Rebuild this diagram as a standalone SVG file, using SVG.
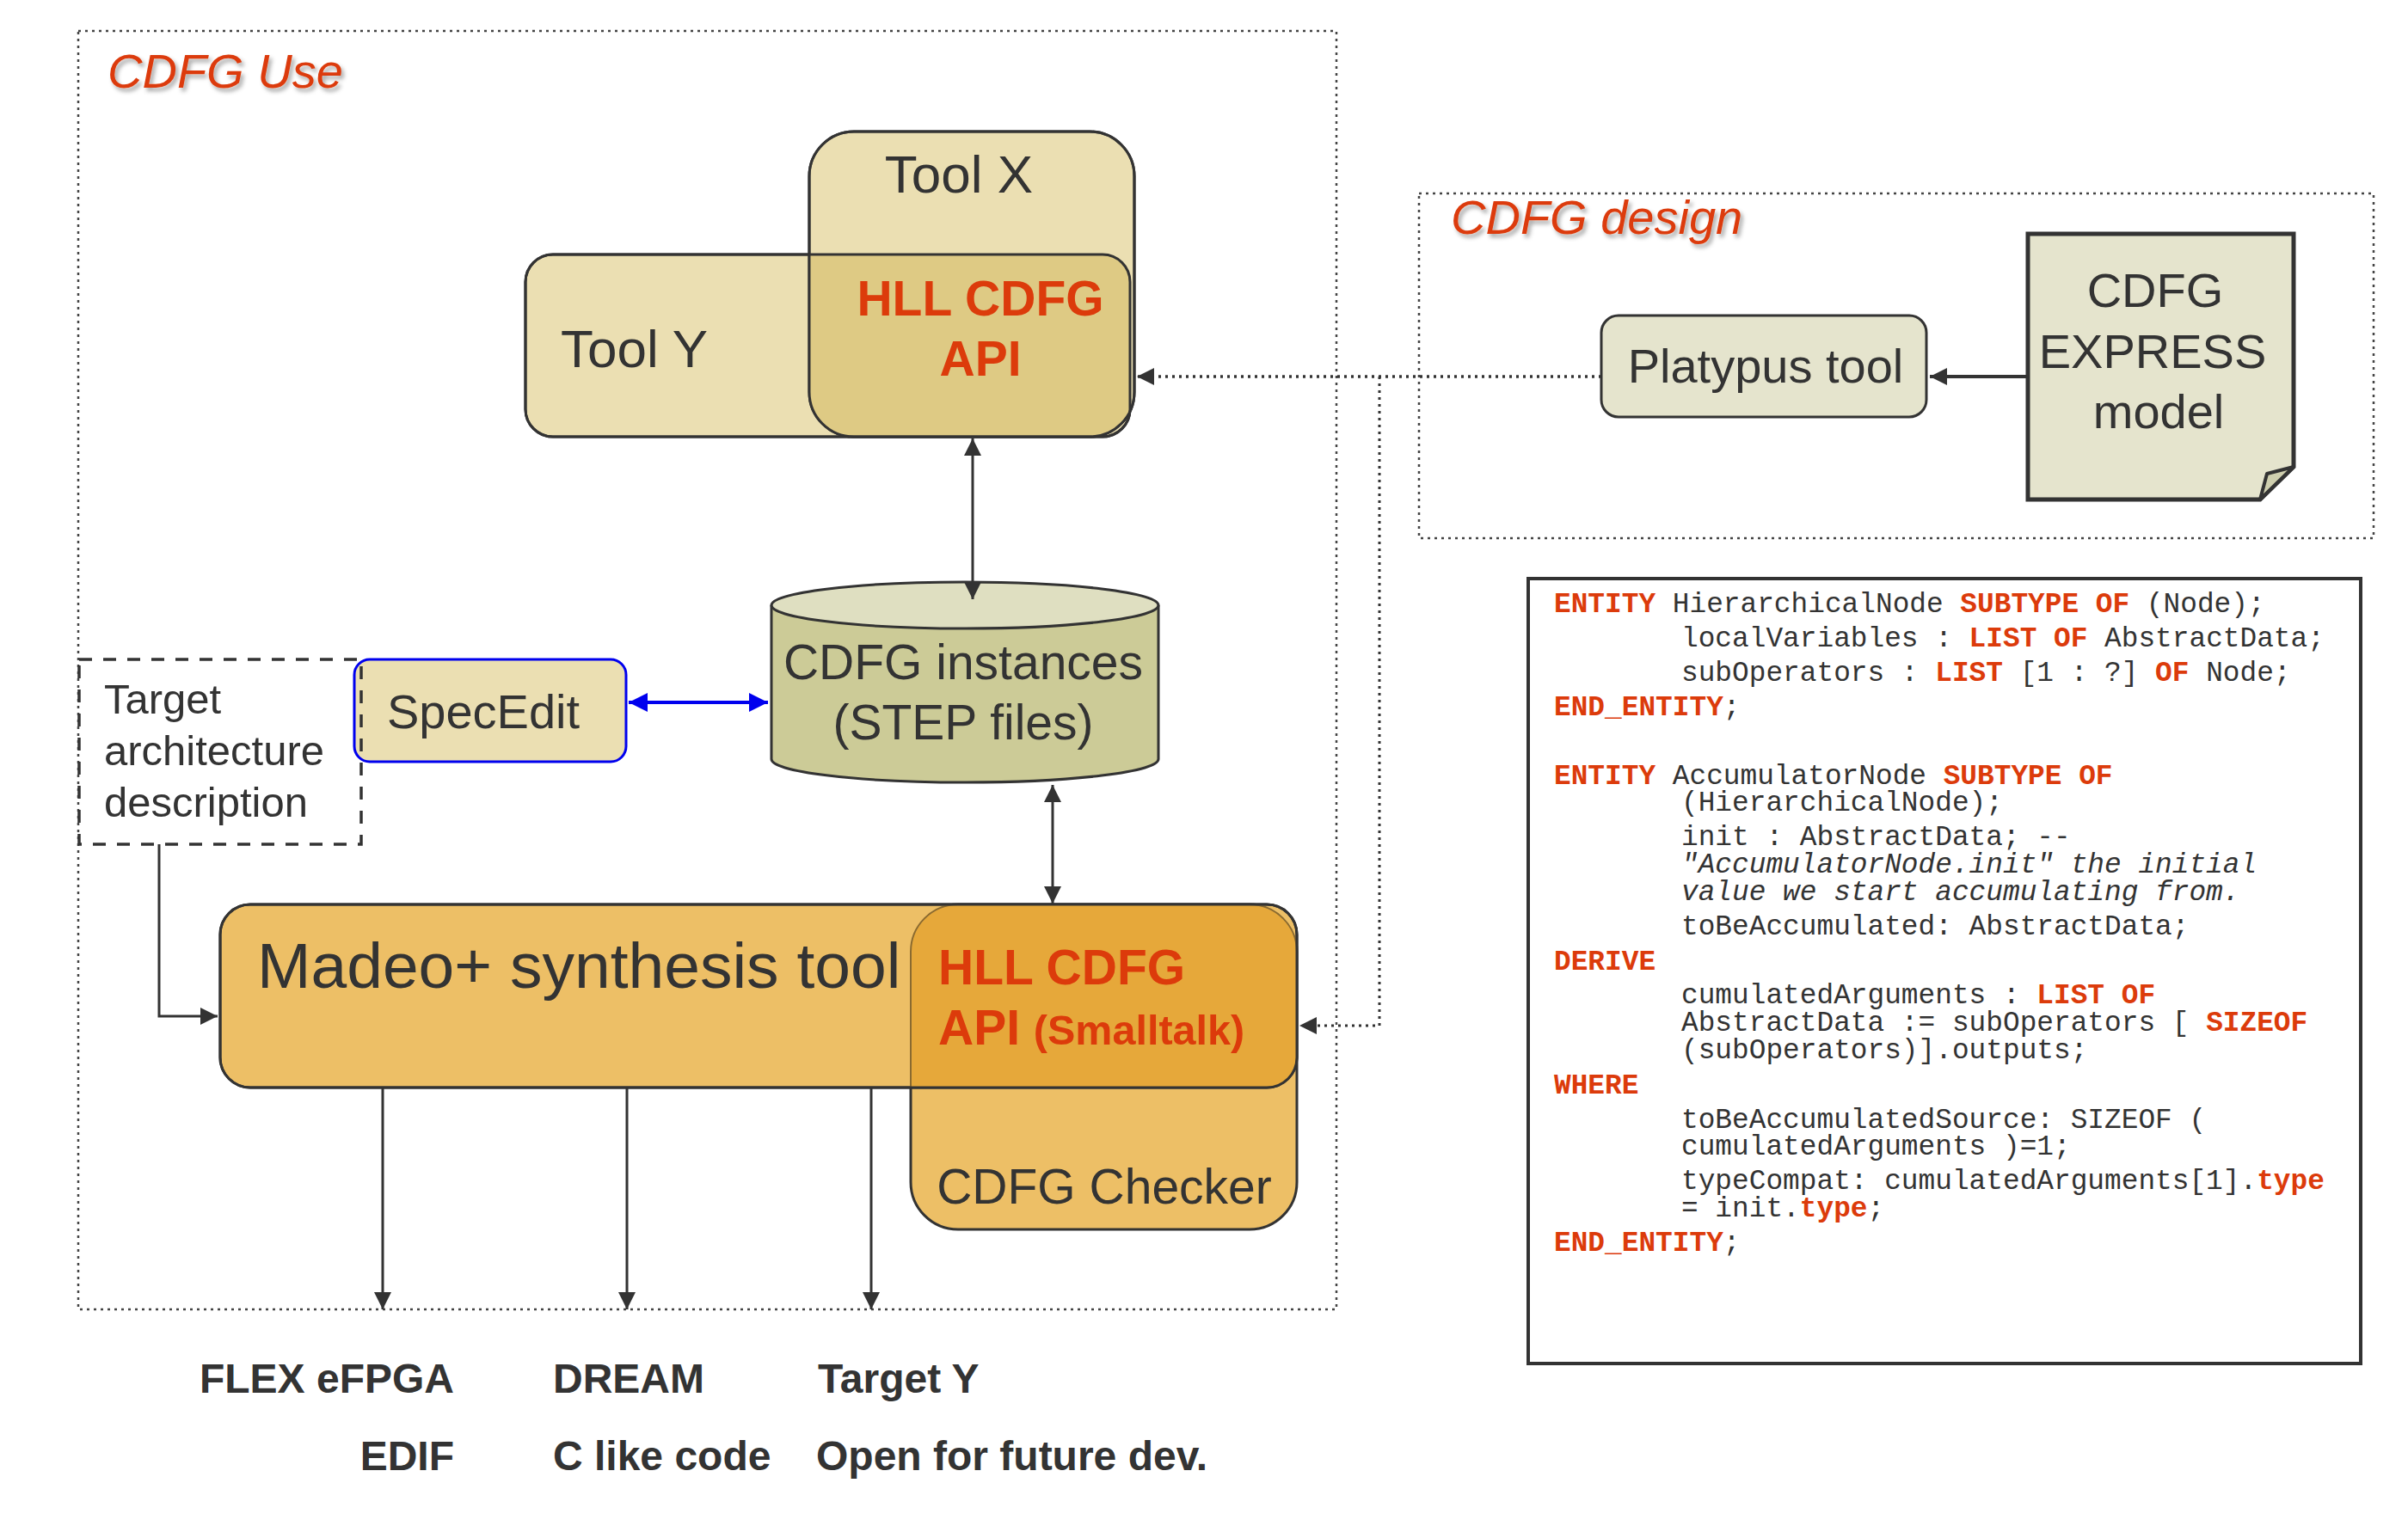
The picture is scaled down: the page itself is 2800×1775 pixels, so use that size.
<svg xmlns="http://www.w3.org/2000/svg" width="2800" height="1775" viewBox="0 0 2800 1775">
<style>
.sans{font-family:"Liberation Sans",Arial,sans-serif;fill:#333}
.title{font-family:"Liberation Sans",Arial,sans-serif;font-style:italic;font-size:56px;fill:#DC3B0B}
.red{fill:#DC3B0B;font-weight:bold}
.box{stroke:#333;stroke-width:3}
.dotbox{fill:none;stroke:#444;stroke-width:2.5;stroke-dasharray:3 5}
.code{font-family:"Liberation Mono","Courier New",monospace;font-size:32.8px;fill:#333}
.kw{fill:#DC3B0B;font-weight:bold}
.it{font-style:italic}
.lbl{font-family:"Liberation Sans",Arial,sans-serif;font-size:48px;font-weight:bold;fill:#333}
</style>
<defs>
<marker id="ah" viewBox="0 0 10 10" refX="10" refY="5" markerWidth="22" markerHeight="20" markerUnits="userSpaceOnUse" orient="auto-start-reverse"><path d="M0,0 L10,5 L0,10 Z" fill="#333"/></marker>
<marker id="ahb" viewBox="0 0 10 10" refX="10" refY="5" markerWidth="22" markerHeight="22" markerUnits="userSpaceOnUse" orient="auto-start-reverse"><path d="M0,0 L10,5 L0,10 Z" fill="#0000EE"/></marker>
<filter id="sh" x="-10%" y="-30%" width="130%" height="180%"><feDropShadow dx="3" dy="4" stdDeviation="2.5" flood-color="#000" flood-opacity="0.35"/></filter>
<clipPath id="clipY"><rect x="611" y="296" width="703" height="212" rx="32" ry="32"/></clipPath>
<clipPath id="clipM"><rect x="256" y="1052" width="1252" height="213" rx="35" ry="35"/></clipPath>
</defs>

<g id="cdfg-use-frame">
<rect class="dotbox" x="91" y="36" width="1463" height="1487"/>
<text class="title" x="125" y="102" filter="url(#sh)">CDFG Use</text>
</g>

<g id="cdfg-design-frame">
<rect class="dotbox" x="1650" y="225" width="1110" height="401"/>
<text class="title" x="1687" y="272" filter="url(#sh)">CDFG design</text>
</g>

<g id="tool-y">
<rect class="box" x="611" y="296" width="703" height="212" rx="32" ry="32" fill="#EBDFB2"/>
<text class="sans" x="652" y="427" font-size="62">Tool Y</text>
</g>

<g id="tool-x">
<rect class="box" x="941" y="153" width="378" height="355" rx="52" ry="52" fill="#EBDFB2"/>
<rect x="941" y="153" width="378" height="355" rx="52" ry="52" fill="#DECA84" clip-path="url(#clipY)"/>
<rect x="941" y="153" width="378" height="355" rx="52" ry="52" fill="none" stroke="#333" stroke-width="3"/>
<rect x="611" y="296" width="703" height="212" rx="32" ry="32" fill="none" stroke="#333" stroke-width="3"/>
<text class="sans" x="1115" y="224" font-size="62" text-anchor="middle">Tool X</text>
</g>

<g id="hll-api-top">
<text class="sans red" x="1140" y="367" font-size="57" text-anchor="middle">HLL CDFG</text>
<text class="sans red" x="1140" y="437" font-size="57" text-anchor="middle">API</text>
</g>

<g id="platypus">
<rect class="box" x="1862" y="367" width="378" height="118" rx="20" ry="20" fill="#E5E4CD"/>
<text class="sans" x="2053" y="445" font-size="56" text-anchor="middle">Platypus tool</text>
</g>

<g id="express-model">
<path d="M2358,272 H2667 V543 L2628,581 H2358 Z" fill="#E5E4CD" stroke="#333" stroke-width="5" stroke-linejoin="miter"/>
<path d="M2628,581 L2636,551 L2667,543 Z" fill="#CFCFAF" stroke="#333" stroke-width="4" stroke-linejoin="round"/>
<text class="sans" x="2506" y="357" font-size="56" text-anchor="middle">CDFG</text>
<text class="sans" x="2503" y="428" font-size="56" text-anchor="middle">EXPRESS</text>
<text class="sans" x="2510" y="498" font-size="56" text-anchor="middle">model</text>
</g>

<g id="cdfg-instances">
<path d="M897,704 V883 A225,27 0 0 0 1347,883 V704" fill="#CCCB97" stroke="#333" stroke-width="3"/>
<ellipse cx="1122" cy="704" rx="225" ry="27" fill="#DFDFC1" stroke="#333" stroke-width="3"/>
<text class="sans" x="1120" y="790" font-size="57" text-anchor="middle">CDFG instances</text>
<text class="sans" x="1120" y="860" font-size="57" text-anchor="middle">(STEP files)</text>
</g>

<g id="specedit">
<rect x="412" y="767" width="316" height="119" rx="18" ry="18" fill="#EBDFB2" stroke="#0000EE" stroke-width="3"/>
<text class="sans" x="562" y="847" font-size="56" text-anchor="middle">SpecEdit</text>
</g>

<g id="target-arch">
<rect x="92" y="767" width="328" height="215" fill="none" stroke="#333" stroke-width="3.5" stroke-dasharray="15 13"/>
<text class="sans" x="121" y="830" font-size="49">Target</text>
<text class="sans" x="121" y="890" font-size="49">architecture</text>
<text class="sans" x="121" y="950" font-size="49">description</text>
</g>

<g id="cdfg-checker">
<rect class="box" x="1059" y="1052" width="449" height="378" rx="55" ry="55" fill="#EDBF66"/>
<text class="sans" x="1284" y="1400" font-size="57" text-anchor="middle">CDFG Checker</text>
</g>

<g id="madeo">
<rect class="box" x="256" y="1052" width="1252" height="213" rx="35" ry="35" fill="#EDBF66"/>
<rect x="1059" y="1052" width="449" height="378" rx="55" ry="55" fill="#E6A83A" clip-path="url(#clipM)"/>
<rect x="1059" y="1052" width="449" height="378" rx="55" ry="55" fill="none" stroke="#8A6A30" stroke-width="2" clip-path="url(#clipM)"/>
<rect x="256" y="1052" width="1252" height="213" rx="35" ry="35" fill="none" stroke="#333" stroke-width="3"/>
<text class="sans" x="299" y="1149" font-size="75">Madeo+ synthesis tool</text>
<text class="sans red" x="1091" y="1145" font-size="57">HLL CDFG</text>
<text class="sans red" x="1091" y="1215" font-size="57">API <tspan font-size="48.5">(Smalltalk)</tspan></text>
</g>

<g id="code-box">
<rect x="1777" y="673" width="968" height="913" fill="#fff" stroke="#333" stroke-width="4"/>
<text class="code" xml:space="preserve"><tspan x="1807" y="712"><tspan class="kw">ENTITY</tspan> HierarchicalNode <tspan class="kw">SUBTYPE OF</tspan> (Node);</tspan><tspan x="1955" y="752">localVariables : <tspan class="kw">LIST OF</tspan> AbstractData;</tspan><tspan x="1955" y="792">subOperators : <tspan class="kw">LIST</tspan> [1 : ?] <tspan class="kw">OF</tspan> Node;</tspan><tspan x="1807" y="832"><tspan class="kw">END_ENTITY</tspan>;</tspan><tspan x="1807" y="912"><tspan class="kw">ENTITY</tspan> AccumulatorNode <tspan class="kw">SUBTYPE OF</tspan></tspan><tspan x="1955" y="943">(HierarchicalNode);</tspan><tspan x="1955" y="983">init : AbstractData; --</tspan><tspan x="1955" y="1015" class="it">"AccumulatorNode.init" the initial</tspan><tspan x="1955" y="1047" class="it">value we start accumulating from.</tspan><tspan x="1955" y="1087">toBeAccumulated: AbstractData;</tspan><tspan x="1807" y="1128" class="kw">DERIVE</tspan><tspan x="1955" y="1167">cumulatedArguments : <tspan class="kw">LIST OF</tspan></tspan><tspan x="1955" y="1199">AbstractData := subOperators [ <tspan class="kw">SIZEOF</tspan></tspan><tspan x="1955" y="1231">(subOperators)].outputs;</tspan><tspan x="1807" y="1272" class="kw">WHERE</tspan><tspan x="1955" y="1312">toBeAccumulatedSource: SIZEOF (</tspan><tspan x="1955" y="1343">cumulatedArguments )=1;</tspan><tspan x="1955" y="1383">typeCompat: cumulatedArguments[1].<tspan class="kw">type</tspan></tspan><tspan x="1955" y="1415">= init.<tspan class="kw">type</tspan>;</tspan><tspan x="1807" y="1455"><tspan class="kw">END_ENTITY</tspan>;</tspan></text>
</g>

<g id="output-labels">
<text class="lbl" x="528" y="1620" text-anchor="end">FLEX eFPGA</text>
<text class="lbl" x="643" y="1620">DREAM</text>
<text class="lbl" x="951" y="1620">Target Y</text>
<text class="lbl" x="528" y="1710" text-anchor="end">EDIF</text>
<text class="lbl" x="643" y="1710">C like code</text>
<text class="lbl" x="949" y="1710">Open for future dev.</text>
</g>

<g id="connectors" fill="none">
<line x1="1131" y1="510" x2="1131" y2="697" stroke="#333" stroke-width="3" marker-start="url(#ah)" marker-end="url(#ah)"/>
<line x1="1224" y1="913" x2="1224" y2="1051" stroke="#333" stroke-width="3" marker-start="url(#ah)" marker-end="url(#ah)"/>
<line x1="731" y1="817" x2="893" y2="817" stroke="#0000EE" stroke-width="4" marker-start="url(#ahb)" marker-end="url(#ahb)"/>
<path d="M185,982 V1182 H253" stroke="#333" stroke-width="3" marker-end="url(#ah)"/>
<line x1="2358" y1="438" x2="2244" y2="438" stroke="#333" stroke-width="4" marker-end="url(#ah)"/>
<path d="M1862,438 H1322" stroke="#333" stroke-width="3.5" stroke-dasharray="3 5" marker-end="url(#ah)"/>
<path d="M1604,438 V1193 H1511" stroke="#333" stroke-width="3" stroke-dasharray="3 5" marker-end="url(#ah)"/>
<line x1="445" y1="1265" x2="445" y2="1523" stroke="#333" stroke-width="3" marker-end="url(#ah)"/>
<line x1="729" y1="1265" x2="729" y2="1523" stroke="#333" stroke-width="3" marker-end="url(#ah)"/>
<line x1="1013" y1="1265" x2="1013" y2="1523" stroke="#333" stroke-width="3" marker-end="url(#ah)"/>
</g>
</svg>
